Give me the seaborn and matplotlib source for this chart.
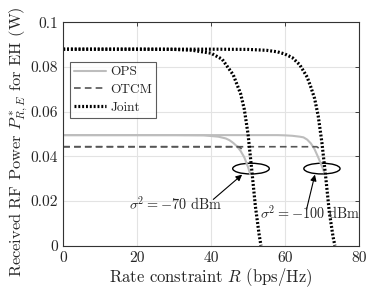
import numpy as np
import pandas as pd
import seaborn as sns
import matplotlib
matplotlib.use('Agg')
import matplotlib.pyplot as plt
from matplotlib.patches import Ellipse

# curve data (R in bps/Hz, P in W)
r_ops_70 = [0, 10, 20, 30, 38, 42, 44, 45, 46, 47, 48, 49, 50, 50.6]
p_ops_70 = [0.0495, 0.0495, 0.0495, 0.0495, 0.0494, 0.0488, 0.048, 0.0472, 0.046, 0.0445, 0.0424, 0.0395, 0.0352, 0.032]
r_ops_100 = [0, 10, 20, 30, 40, 50, 58, 60, 62, 64, 65, 66, 67, 68, 69, 70, 70.8]
p_ops_100 = [0.0495, 0.0495, 0.0495, 0.0495, 0.0495, 0.0495, 0.0495, 0.0494, 0.0492, 0.0488, 0.0485, 0.0475, 0.0458, 0.0432, 0.0395, 0.0355, 0.032]

r_otcm_70 = [0, 10, 20, 30, 40, 47.5, 48.3]
p_otcm_70 = [0.0443, 0.0443, 0.0443, 0.0443, 0.0443, 0.0443, 0.0434]
r_otcm_100 = [0, 10, 20, 30, 40, 50, 60, 68.6, 69.4]
p_otcm_100 = [0.0443, 0.0443, 0.0443, 0.0443, 0.0443, 0.0443, 0.0443, 0.0443, 0.0434]

r_joint_70 = [0, 10, 20, 30, 35, 40, 43, 46, 48, 49, 50, 51, 52, 53, 53.5]
p_joint_70 = [0.088, 0.088, 0.088, 0.0879, 0.0875, 0.0862, 0.0835, 0.0765, 0.068, 0.061, 0.050, 0.034, 0.0175, 0.005, 0.0]
r_joint_100 = [0, 10, 20, 30, 40, 50, 55, 58, 60, 62, 64, 66, 67, 68, 69, 70, 71, 72, 73, 73.5]
p_joint_100 = [0.088, 0.088, 0.088, 0.088, 0.088, 0.0879, 0.0875, 0.0868, 0.0858, 0.0842, 0.081, 0.0755,
               0.071, 0.066, 0.058, 0.046, 0.031, 0.015, 0.004, 0.0]

x_ticks = [0, 20, 40, 60, 80]
y_ticks = [0, 0.02, 0.04, 0.06, 0.08, 0.1]
y_tick_labels = ['0', '0.02', '0.04', '0.06', '0.08', '0.1']

sns.set_style('white')
plt.rcParams['font.family'] = ['cmr10']
plt.rcParams['mathtext.fontset'] = 'cm'
plt.rcParams['axes.unicode_minus'] = False
plt.rcParams['axes.formatter.use_mathtext'] = True

fig = plt.figure(figsize=(3.88, 2.91), dpi=100)
ax = fig.add_axes([0.163, 0.156, 0.762, 0.767])

curves = [
    (r_ops_70, p_ops_70, 'OPS', dict(color='#bdbdbd', lw=1.5, ls='-')),
    (r_ops_100, p_ops_100, None, dict(color='#bdbdbd', lw=1.5, ls='-')),
    (r_otcm_100, p_otcm_100, 'OTCM', dict(color='#555555', lw=1.2, ls=(0, (4, 2.5)))),
    (r_otcm_70, p_otcm_70, None, dict(color='#555555', lw=1.2, ls=(0, (4, 2.5)))),
    (r_joint_70, p_joint_70, 'Joint', dict(color='black', lw=2.3, ls=(0, (0.6, 0.6)))),
    (r_joint_100, p_joint_100, None, dict(color='black', lw=2.3, ls=(0, (0.6, 0.6)))),
]
for r, p, lab, st in curves:
    d = pd.DataFrame({'R': r, 'P': p})
    sns.lineplot(data=d, x='R', y='P', ax=ax, sort=False, label=lab, **st)

ax.set_xlim(0, 80)
ax.set_ylim(0, 0.1)
ax.set_xticks(x_ticks)
ax.set_xticklabels([str(v) for v in x_ticks])
ax.set_yticks(y_ticks)
ax.set_yticklabels(y_tick_labels)
ax.grid(True, color='#e3e3e3', lw=0.8)
ax.tick_params(direction='in', top=True, right=True, labelsize=11.2, length=3, width=0.6, pad=4)
for s in ax.spines.values():
    s.set_linewidth(0.8)
    s.set_color('#333333')

ax.set_xlabel(r'Rate constraint $R$ (bps/Hz)', fontsize=12, labelpad=1)
ax.set_ylabel(r'Received RF Power $P^*_{R,E}$ for EH (W)', fontsize=11.8)
ax.yaxis.set_label_coords(-0.115, 0.466)

# ellipses and annotations
ax.add_patch(Ellipse((50.8, 0.0345), 9.9, 0.0048, fill=False, lw=1.0, ec='black'))
ax.add_patch(Ellipse((70.0, 0.0345), 9.8, 0.0048, fill=False, lw=1.0, ec='black'))
ax.annotate('', xy=(48.4, 0.0318), xytext=(40.6, 0.0207),
            arrowprops=dict(arrowstyle='-|>', color='black', lw=0.8, mutation_scale=9, shrinkA=0, shrinkB=0))
ax.text(42.9, 0.0187, r'$\sigma^2 = -70$ dBm', fontsize=10.3, ha='right', va='center')
ax.annotate('', xy=(68.1, 0.0318), xytext=(65.8, 0.016),
            arrowprops=dict(arrowstyle='-|>', color='black', lw=0.8, mutation_scale=9, shrinkA=0, shrinkB=0))
ax.text(53.2, 0.0146, r'$\sigma^2 = -100$ dBm', fontsize=10.3, ha='left', va='center')

leg = ax.legend(loc='upper left', bbox_to_anchor=(0.0145, 0.834), fontsize=9.6, frameon=True, fancybox=False,
                handlelength=2.4, handletextpad=0.3, borderpad=0.3, labelspacing=0.4, borderaxespad=0.2)
leg.get_frame().set_edgecolor('#333333')
leg.get_frame().set_linewidth(0.8)

fig.savefig('out.png', dpi=100)
